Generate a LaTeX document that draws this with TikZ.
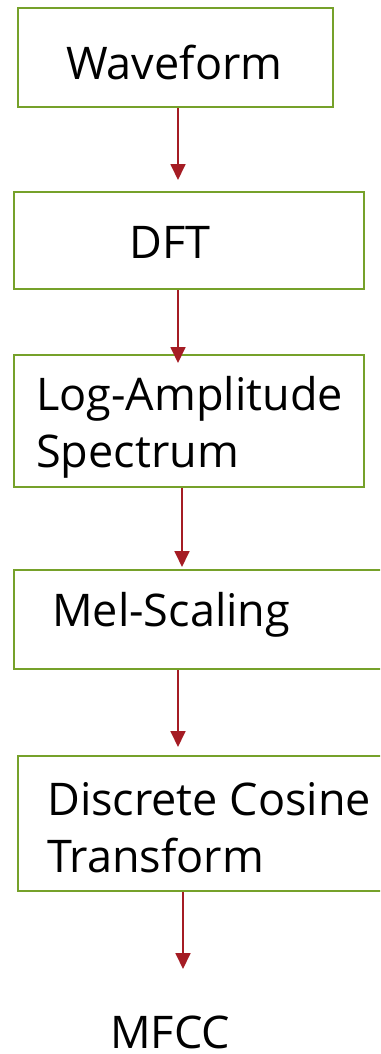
\documentclass[tikz,border=0pt]{standalone}
\usepackage{fontspec}
\setmainfont{Open Sans}
\usetikzlibrary{arrows.meta}
\definecolor{boxgreen}{HTML}{76A12A}
\definecolor{arrowred}{HTML}{A51C24}
\tikzset{
  stagebox/.style={draw=boxgreen, line width=2.2pt, fill=white, rectangle,
    inner sep=0pt, anchor=north west},
  stagetext/.style={anchor=base west, inner sep=0pt, font=\fontsize{45}{57}\selectfont},
  flow/.style={draw=arrowred, line width=1.8pt,
    -{Triangle[width=15pt,length=16pt]}}
}
\begin{document}
\begin{tikzpicture}[x=1pt,y=-1pt]
\useasboundingbox (0,0) rectangle (380,1054);
\clip (0,0) rectangle (380,1054);
% stage boxes
\node[stagebox, minimum width=315pt, minimum height=99pt] (wave) at (17,7) {};
\node[stagebox, minimum width=350pt, minimum height=97pt] (dft) at (13,191) {};
\node[stagebox, minimum width=350pt, minimum height=132pt] (logamp) at (13,354) {};
\node[stagebox, minimum width=380pt, minimum height=99pt] (mel) at (13,569) {};
\node[stagebox, minimum width=380pt, minimum height=135pt] (dct) at (17,755) {};
% labels
\node[stagetext] (twave) at (66,80) {Waveform};
\node[stagetext] (tdft) at (129,258) {DFT};
\node[stagetext] (tlog1) at (36,410) {Log-Amplitude};
\node[stagetext] (tlog2) at (36,467) {Spectrum};
\node[stagetext] (tmel) at (52,626) {Mel-Scaling};
\node[stagetext] (tdct1) at (47,815) {Discrete Cosine};
\node[stagetext] (tdct2) at (47,872) {Transform};
\node[stagetext] (mfcc) at (110,1048) {MFCC};
% arrow tips and their columns
\coordinate (tip1) at (178,180);
\coordinate (tip2) at (178,363);
\coordinate (tip3) at (182,567);
\coordinate (tip4) at (178,747);
\coordinate (tip5) at (183,969);
% connectors
\draw[flow] (wave.south -| tip1) -- (tip1);
\draw[flow] (dft.south -| tip2) -- (tip2);
\draw[flow] (logamp.south -| tip3) -- (tip3);
\draw[flow] (mel.south -| tip4) -- (tip4);
\draw[flow] (dct.south -| tip5) -- (tip5);
\end{tikzpicture}
\end{document}
